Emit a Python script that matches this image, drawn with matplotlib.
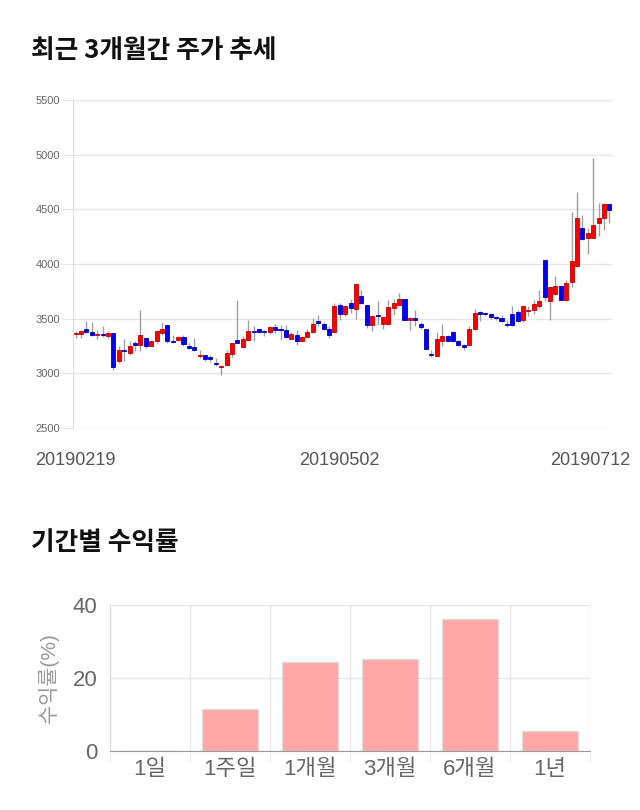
import numpy as np
import matplotlib
matplotlib.use('Agg')
import matplotlib.pyplot as plt
from matplotlib import transforms

plt.rcParams['font.family'] = ['Liberation Sans', 'Noto Sans CJK KR', 'DejaVu Sans']

# daily candles, 2019-02-19 .. 2019-07-12
opens = [3358, 3359, 3408, 3375, 3350, 3362, 3344, 3369, 3109, 3216,
         3185, 3277, 3256, 3323, 3252, 3298, 3369, 3445, 3298, 3307,
         3329, 3252, 3240, 3155, 3170, 3145, 3093, 3054, 3072, 3179,
         3307, 3237, 3307, 3384, 3405, 3387, 3375, 3420, 3408, 3399,
         3316, 3353, 3292, 3332, 3375, 3475, 3454, 3405, 3378, 3622,
         3543, 3644, 3589, 3711, 3628, 3439, 3530, 3451, 3451, 3598,
         3628, 3680, 3485, 3503, 3451, 3405, 3177, 3155, 3292, 3344,
         3378, 3298, 3261, 3255, 3405, 3558, 3552, 3546, 3515, 3506,
         3454, 3543, 3561, 3485, 3573, 3582, 3613, 4041, 3665, 3729,
         3802, 3674, 3833, 3986, 4331, 4240, 4240, 4377, 4417, 4545]
highs = [3390, 3399, 3482, 3469, 3399, 3430, 3384, 3369, 3246, 3314,
         3292, 3292, 3583, 3323, 3307, 3399, 3466, 3445, 3353, 3338,
         3353, 3277, 3323, 3216, 3170, 3170, 3139, 3078, 3216, 3277,
         3674, 3338, 3491, 3430, 3405, 3399, 3430, 3451, 3439, 3445,
         3375, 3399, 3338, 3405, 3506, 3537, 3466, 3430, 3644, 3644,
         3628, 3680, 3818, 3766, 3628, 3537, 3659, 3521, 3674, 3680,
         3735, 3680, 3512, 3582, 3466, 3405, 3216, 3375, 3454, 3353,
         3390, 3307, 3270, 3436, 3589, 3567, 3561, 3552, 3521, 3530,
         3491, 3613, 3582, 3619, 3619, 3674, 3760, 4041, 3790, 3888,
         3802, 3857, 4475, 4661, 4444, 4331, 4967, 4555, 4560, 4545]
lows = [3323, 3323, 3369, 3344, 3314, 3332, 3323, 3032, 3093, 3109,
        3170, 3206, 3206, 3231, 3246, 3277, 3353, 3277, 3277, 3292,
        3252, 3222, 3200, 3139, 3109, 3100, 3069, 2987, 3072, 3145,
        3277, 3231, 3301, 3292, 3369, 3338, 3362, 3369, 3301, 3323,
        3313, 3255, 3292, 3332, 3369, 3436, 3393, 3323, 3378, 3491,
        3521, 3552, 3497, 3634, 3414, 3384, 3445, 3408, 3451, 3537,
        3619, 3485, 3393, 3430, 3408, 3222, 3148, 3155, 3252, 3292,
        3283, 3246, 3216, 3255, 3393, 3475, 3521, 3497, 3485, 3466,
        3423, 3430, 3466, 3466, 3521, 3546, 3598, 3659, 3490, 3720,
        3674, 3659, 3790, 3980, 4224, 4096, 4240, 4255, 4310, 4371]
closes = [3364, 3384, 3375, 3350, 3362, 3350, 3369, 3057, 3216, 3200,
          3252, 3258, 3353, 3252, 3298, 3390, 3408, 3292, 3290, 3329,
          3270, 3231, 3210, 3170, 3130, 3133, 3081, 3069, 3185, 3277,
          3277, 3314, 3384, 3375, 3380, 3375, 3420, 3399, 3399, 3332,
          3362, 3292, 3332, 3378, 3454, 3460, 3405, 3347, 3613, 3543,
          3613, 3598, 3818, 3644, 3439, 3527, 3525, 3512, 3607, 3644,
          3680, 3485, 3503, 3485, 3420, 3222, 3165, 3313, 3344, 3298,
          3292, 3261, 3237, 3405, 3552, 3543, 3543, 3512, 3503, 3482,
          3442, 3445, 3482, 3619, 3582, 3634, 3659, 3695, 3790, 3802,
          3674, 3827, 4026, 4417, 4233, 4285, 4356, 4417, 4545, 4494]
date_labels = ['20190219', '20190502', '20190712']
date_pos = [0, 49, 99]

periods = ['1일', '1주일', '1개월', '3개월', '6개월', '1년']
returns = [0.0, 11.4, 24.3, 25.2, 36.3, 5.6]

fig = plt.figure(figsize=(6.4, 8.1), dpi=100)

fig.text(31 / 640, 1 - 50 / 810, '최근 3개월간 주가 추세', fontsize=18.5,
         fontweight='bold', family='Noto Sans CJK KR', va='center', color='#111111')

# candle chart
ax = fig.add_axes([73 / 640, 1 - 428 / 810, 539 / 640, 328 / 810])
o = np.array(opens)
h = np.array(highs)
l = np.array(lows)
c = np.array(closes)
x = np.arange(len(o))
up = c >= o
face = np.where(up, '#ff0000', '#0000ff')
edge = np.where(up, '#c40000', '#0000b4')
ax.vlines(x, l, h, color='#a0a0a0', lw=1, zorder=2)
ax.bar(x, np.maximum(np.abs(c - o), 8), bottom=np.minimum(o, c), width=0.75,
       color=face, edgecolor=edge, lw=0.6, zorder=3)
ax.set_xlim(-0.5, len(o) - 0.5)
ax.set_ylim(2500, 5500)
ax.set_yticks(range(2500, 5501, 500))
ax.grid(axis='y', color='#e6e6e6', lw=1, zorder=0)
ax.tick_params(axis='y', length=8, color='#e6e6e6', labelsize=8,
               labelcolor='#666666', pad=1)
for s in ['top', 'right', 'bottom']:
    ax.spines[s].set_visible(False)
ax.spines['left'].set_color('#dddddd')
ax.set_xticks(date_pos, date_labels)
ax.tick_params(axis='x', length=0, pad=17, labelsize=13, labelcolor='#555555')
last = ax.get_xticklabels()[-1]
last.set_ha('right')
last.set_transform(last.get_transform() +
                   transforms.ScaledTranslation(0.21, 0, fig.dpi_scale_trans))

fig.text(31 / 640, 1 - 543 / 810, '기간별 수익률', fontsize=18.5,
         fontweight='bold', family='Noto Sans CJK KR', va='center', color='#111111')

# returns bar chart
bx = fig.add_axes([110 / 640, 1 - 751 / 810, 480 / 640, 146 / 810])
pos = np.arange(len(periods))
bx.bar(pos, returns, width=0.69, color='#ffa6a6', edgecolor='#dcdcdc', lw=1, zorder=3)
bx.set_xlim(-0.5, len(periods) - 0.5)
bx.set_ylim(0, 40)
bx.set_yticks([0, 20, 40])
bx.set_xticks(pos, periods)
bx.set_xticks(np.arange(-0.5, len(periods), 1), minor=True)
bx.grid(which='minor', axis='x', color='#e6e6e6', lw=1, zorder=0)
bx.grid(which='major', axis='y', color='#e6e6e6', lw=1, zorder=0)
bx.tick_params(axis='x', which='major', length=0, labelsize=16,
               labelcolor='#666666', pad=6)
bx.tick_params(axis='x', which='minor', length=8, color='#e6e6e6')
bx.tick_params(axis='y', length=0, labelsize=16, labelcolor='#666666', pad=9)
for s in ['top', 'right']:
    bx.spines[s].set_visible(False)
bx.spines['left'].set_color('#dddddd')
bx.spines['bottom'].set_color('#999999')
bx.spines['bottom'].set_zorder(4)
bx.set_ylabel('수익률(%)', fontsize=15, color='#999999', labelpad=10)

fig.savefig('out.png', dpi=100)
